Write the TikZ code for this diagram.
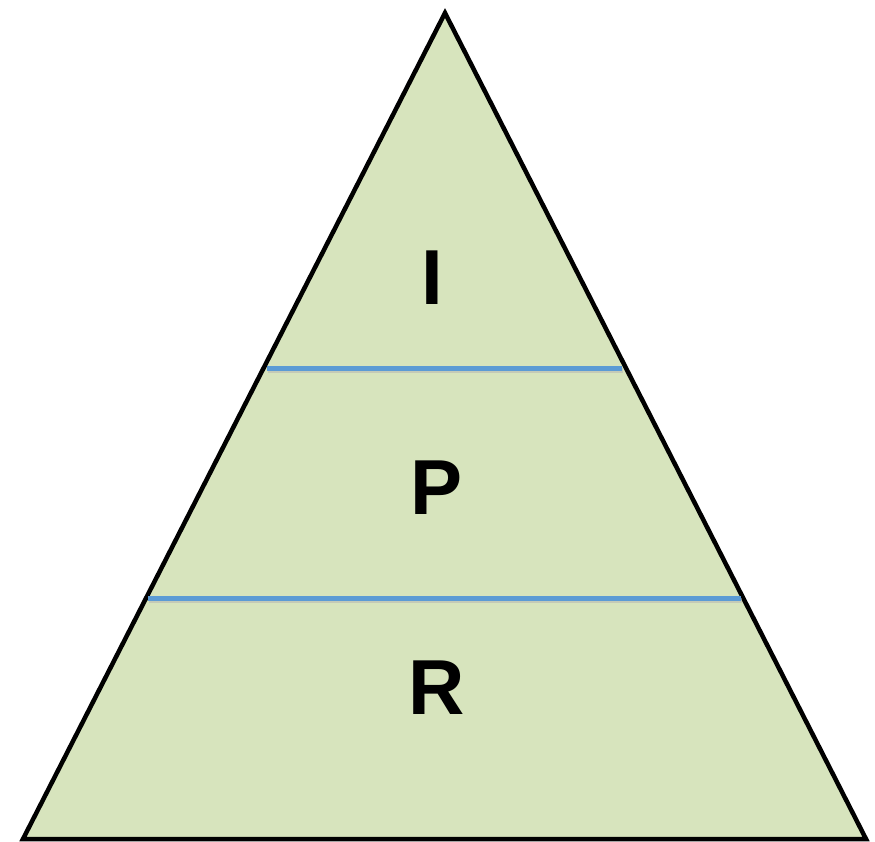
\documentclass[tikz,border=0pt]{standalone}
\usepackage{fontspec}
\setmainfont{Liberation Sans}
\definecolor{pyrfill}{HTML}{D7E4BD}
\definecolor{sepblue}{HTML}{5B9BD5}
\begin{document}
\begin{tikzpicture}[x=1pt,y=-1pt,
  letter/.style={anchor=base,inner sep=0pt,font=\fontsize{78}{80}\bfseries\selectfont},
  sepline/.style={draw=sepblue,line width=5pt},
  sepshadow/.style={draw=black!30,line width=5pt,opacity=0.5}]
\useasboundingbox (0,0) rectangle (875,842);
\coordinate (apex) at (445,13);
\coordinate (bl) at (23,839);
\coordinate (br) at (866,839);
\filldraw[fill=pyrfill,draw=black,line width=4.5pt,line join=miter] (apex) -- (br) -- (bl) -- cycle;
\coordinate (a1) at (267,368.5);
\coordinate (b1) at (622,368.5);
\coordinate (a2) at (148,598);
\coordinate (b2) at (741,598);
\draw[sepshadow] ([shift={(1,2)}]a1) -- ([shift={(1,2)}]b1);
\draw[sepshadow] ([shift={(1,2)}]a2) -- ([shift={(1,2)}]b2);
\draw[sepline] (a1) -- (b1);
\draw[sepline] (a2) -- (b2);
\node[letter] (lI) at (432,305) {I};
\node[letter] (lP) at (437,514) {P};
\node[letter] (lR) at (436.5,714) {R};
\end{tikzpicture}
\end{document}
